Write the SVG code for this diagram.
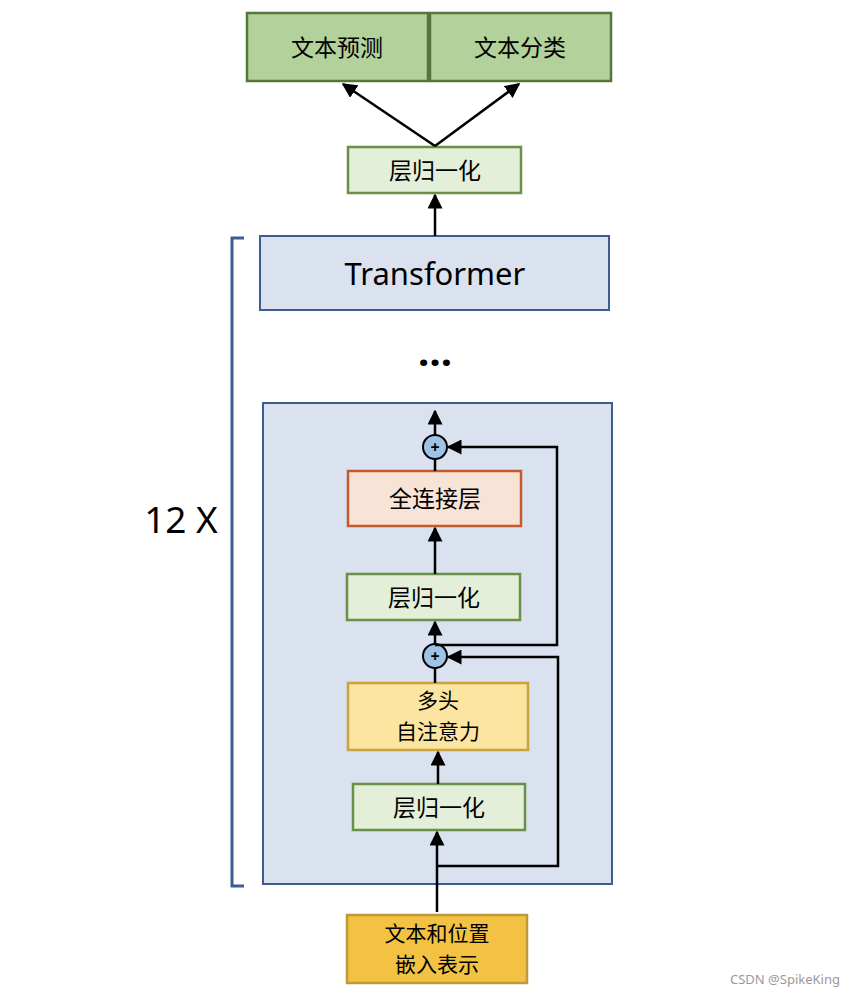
<svg xmlns="http://www.w3.org/2000/svg" width="860" height="996" viewBox="0 0 860 996">
<style>
text{font-family:"Noto Sans CJK SC","Noto Sans",sans-serif;fill:#000;text-anchor:middle}
.cn{font-size:23px}
.cn2{font-size:21px}
.out{fill:#b3d19a;stroke:#56763b;stroke-width:2.5}
.ln{fill:#e3efd9;stroke:#6a8f46;stroke-width:2.5}
.blue{fill:#dae2f0;stroke:#3f5b93;stroke-width:2}
.ffn{fill:#f8e4d7;stroke:#c55a28;stroke-width:2.5}
.att{fill:#fbe5a0;stroke:#c9a33c;stroke-width:2.5}
.emb{fill:#f4c242;stroke:#c09a3a;stroke-width:2.5}
.plus{fill:#9dc3e6;stroke:#000;stroke-width:2}
.c{fill:none;stroke:#000;stroke-width:2.5}
</style>
<defs>
<marker id="ah" viewBox="0 0 10 10" refX="9" refY="5" markerWidth="6" markerHeight="6" orient="auto" markerUnits="strokeWidth">
<path d="M0,0 L10,5 L0,10 z" fill="#000"/>
</marker>
</defs>
<rect width="860" height="996" fill="#fff"/>

<g id="bracket">
<path d="M244,238 H232 V886 H244" fill="none" stroke="#3f5b93" stroke-width="3"/>
<text x="181" y="533" style="font-family:'Noto Sans','Open Sans',sans-serif;font-size:37px">12 X</text>
</g>

<g id="block">
<rect class="blue" x="263" y="403" width="349" height="481"/>
</g>

<g id="pred"><rect class="out" x="247" y="13" width="181" height="68"/><text class="cn" x="337" y="56">文本预测</text></g>
<g id="cls"><rect class="out" x="430" y="13" width="181" height="68"/><text class="cn" x="520" y="56">文本分类</text></g>
<g id="ln-top"><rect class="ln" x="348" y="147" width="173" height="46"/><text class="cn" x="435" y="179">层归一化</text></g>
<g id="transformer"><rect class="blue" x="260" y="236" width="349" height="74"/><text x="435" y="285" style="font-family:'Noto Sans','Open Sans',sans-serif;font-size:31px">Transformer</text></g>
<g id="dots"><text x="435" y="366" style="font-family:'Noto Sans',sans-serif;font-size:40px;font-weight:bold">…</text></g>

<g id="add2"><circle class="plus" cx="435" cy="447" r="12"/><text x="435" y="453" style="font-family:'Noto Sans',sans-serif;font-size:16px;font-weight:bold">+</text></g>
<g id="ffn"><rect class="ffn" x="348" y="471" width="173" height="55"/><text class="cn" x="435" y="507">全连接层</text></g>
<g id="ln2"><rect class="ln" x="347" y="574" width="173" height="46"/><text class="cn" x="434" y="606">层归一化</text></g>
<g id="add1"><circle class="plus" cx="435" cy="656" r="12"/><text x="435" y="662" style="font-family:'Noto Sans',sans-serif;font-size:16px;font-weight:bold">+</text></g>
<g id="attn"><rect class="att" x="348" y="683" width="180" height="67"/><text class="cn2" x="438" y="708">多头<tspan x="438" dy="31">自注意力</tspan></text></g>
<g id="ln1"><rect class="ln" x="353" y="784" width="172" height="46"/><text class="cn" x="439" y="816">层归一化</text></g>
<g id="emb"><rect class="emb" x="347" y="915" width="180" height="68"/><text class="cn2" x="437" y="941">文本和位置<tspan x="437" dy="31">嵌入表示</tspan></text></g>

<g id="connectors">
<path class="c" d="M435,146 L343,84" marker-end="url(#ah)"/>
<path class="c" d="M435,146 L519,84" marker-end="url(#ah)"/>
<path class="c" d="M435,236 V195" marker-end="url(#ah)"/>
<path class="c" d="M435,435 V411" marker-end="url(#ah)"/>
<path class="c" d="M435,471 V459"/>
<path class="c" d="M435,574 V528" marker-end="url(#ah)"/>
<path class="c" d="M435,644 V622" marker-end="url(#ah)"/>
<path class="c" d="M435,683 V668"/>
<path class="c" d="M438,784 V752" marker-end="url(#ah)"/>
<path class="c" d="M437,912 V832" marker-end="url(#ah)"/>
<path class="c" d="M437,866 H558 V657 H448" marker-end="url(#ah)"/>
<path class="c" d="M435,645 H557 V447 H448" marker-end="url(#ah)"/>
</g>

<text x="785" y="984" style="font-family:'Noto Sans',sans-serif;font-size:13px;fill:#999">CSDN @SpikeKing</text>
</svg>
